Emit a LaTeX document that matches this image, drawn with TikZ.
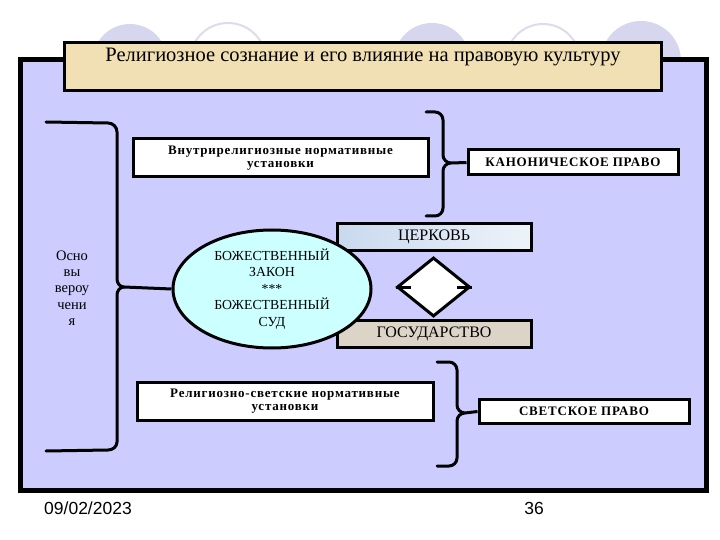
\documentclass[tikz,border=0pt]{standalone}
\usepackage{fontspec}
\setmainfont{Liberation Serif}
\newfontfamily\footfont{Liberation Sans}
\newfontfamily\boxfont[LetterSpace=6]{Liberation Serif}
\usetikzlibrary{shapes.geometric}
\definecolor{lav}{HTML}{CCCCFF}
\definecolor{circlav}{HTML}{D6D6EE}
\definecolor{circline}{HTML}{DCDCEA}
\definecolor{wood}{HTML}{F1E0B4}
\definecolor{cyanfill}{HTML}{CCFFFF}
\definecolor{stategray}{HTML}{DDD4C8}
\definecolor{churchL}{HTML}{C9D9EE}
\definecolor{churchR}{HTML}{EEF3FA}
\tikzset{
  txtbox/.style={draw=black, line width=3pt, fill=white, inner sep=0pt, align=center,
     font=\boxfont\bfseries\fontsize{13}{14}\selectfont},
  lawbox/.style={draw=black, line width=3pt, fill=white, inner sep=0pt, align=center,
     font=\boxfont\bfseries\fontsize{13}{14}\selectfont},
  brace/.style={draw=black, line width=3pt, line cap=round, line join=round},
  footer/.style={font=\footfont\fontsize{17.5}{18}\selectfont, inner sep=0pt}
}
\begin{document}
\begin{tikzpicture}[x=1pt,y=-1pt]
\useasboundingbox (0,0) rectangle (720,540);
\fill[white] (0,0) rectangle (720,540);
% background circles
\fill[circlav] (130,61) circle (37);
\draw[circline, line width=2pt, fill=white] (228,61) circle (38);
\fill[circlav] (432,61) circle (38);
\draw[circline, line width=2pt, fill=white] (543,61) circle (37);
\fill[circlav] (641,61) circle (40);
% main frame
\node[draw=black, line width=5pt, fill=lav, minimum width=686pt, minimum height=430pt, inner sep=0pt]
  (frame) at (363,275) {};
% title
\node[draw=black, line width=3pt, fill=wood, minimum width=597pt, minimum height=48pt, inner sep=0pt]
  (titlebox) at (363,67) {};
\node[font=\fontsize{20.5}{22}\selectfont, inner sep=0pt] (title) at (363,57)
  {Религиозное сознание и его влияние на правовую культуру};
% left text
\node[align=center, font=\fontsize{14.5}{16.3}\selectfont, inner sep=0pt] (osn) at (72,288)
  {Осно\\вы\\вероу\\чени\\я};
% boxes
\node[txtbox, minimum width=295pt, minimum height=38pt] (vnutr) at (280.5,158)
  {\raisebox{4pt}{\begin{tabular}{@{}c@{}}Внутрирелигиозные нормативные\\[-1pt] установки\end{tabular}}};
\node[txtbox, minimum width=296pt, minimum height=38pt] (rels) at (285,401)
  {\raisebox{4pt}{\begin{tabular}{@{}c@{}}Религиозно-светские нормативные\\[-1pt] установки\end{tabular}}};
\node[lawbox, minimum width=210pt, minimum height=25pt] (kanon) at (573,162.5) {КАНОНИЧЕСКОЕ ПРАВО};
\node[lawbox, minimum width=210pt, minimum height=24pt] (svet) at (584,411.5) {СВЕТСКОЕ ПРАВО};
\node[draw=black, line width=3pt, left color=churchL, right color=churchR, minimum width=194pt, minimum height=26pt,
  inner sep=0pt, font=\fontsize{16}{17}\selectfont] (church) at (434,237) {ЦЕРКОВЬ};
\node[draw=black, line width=3pt, fill=stategray, minimum width=194pt, minimum height=27pt,
  inner sep=0pt, font=\fontsize{16}{17}\selectfont] (state) at (434,333.5) {ГОСУДАРСТВО};
% ellipse
\node[ellipse, draw=black, line width=3pt, fill=cyanfill, minimum width=198pt, minimum height=118pt,
  inner sep=0pt, align=center, font=\fontsize{13.8}{16.5}\selectfont] (ell) at (272,289)
  {БОЖЕСТВЕННЫЙ\\ЗАКОН\\***\\БОЖЕСТВЕННЫЙ\\СУД};
% diamond
\node[diamond, draw=black, line width=3pt, fill=white, minimum width=73pt, minimum height=59pt, inner sep=0pt, aspect=1.23]
  (dia) at (433.5,287) {};
\draw[black, line width=3pt] (dia.west) -- ++(15,0);
\draw[black, line width=3pt] (dia.east) -- ++(-15,0);
% left bracket
\coordinate (bl) at (124,287);
\draw[brace] (46,122) -- (108,123) to[out=0,in=90] (117,132) -- (117,279) to[out=-90,in=180] (bl)
  to[out=180,in=90] (117,295) -- (117,442) to[out=-90,in=0] (108,450) -- (46,451);
\draw[black, line width=3pt] (bl) -- (ell.west);
% right brace 1
\coordinate (b1) at (451,163);
\draw[brace] (426,112) -- (435,112) to[out=0,in=90] (443,120) -- (443,155) to[out=-90,in=180] (b1)
  to[out=180,in=90] (443,171) -- (443,208) to[out=-90,in=0] (435,216) -- (426,216);
\draw[black, line width=3pt] (b1) -- (kanon.west);
% right brace 2
\coordinate (b2) at (465,413);
\draw[brace] (437,362) -- (449,362) to[out=0,in=90] (457,370) -- (457,405) to[out=-90,in=180] (b2)
  to[out=180,in=90] (457,421) -- (457,458) to[out=-90,in=0] (449,466) -- (437,466);
\draw[black, line width=3pt] (b2) -- (svet.west);
% footer
\node[footer, anchor=west] (date) at (44,508) {09/02/2023};
\node[footer] (num) at (534,508) {36};
\end{tikzpicture}
\end{document}
